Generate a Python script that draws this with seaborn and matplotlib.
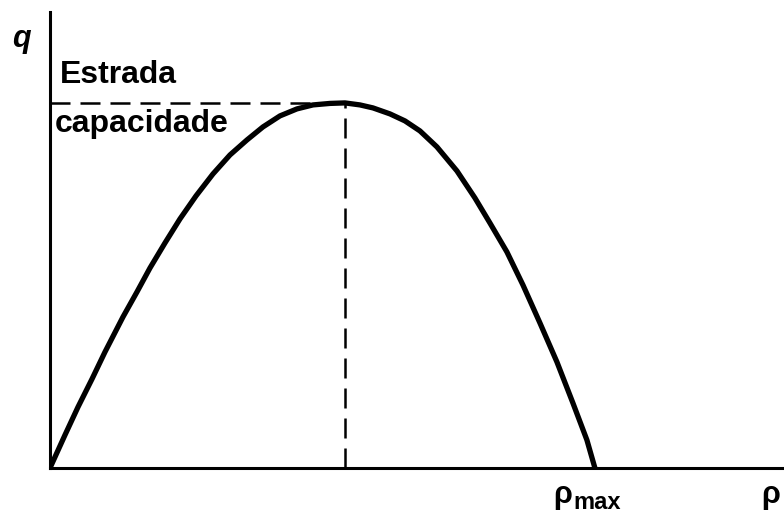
import matplotlib
matplotlib.use('Agg')
import matplotlib.pyplot as plt
import seaborn as sns
import pandas as pd

# fundamental diagram: flow q vs density rho (arbitrary units, rho_max = 100, capacity = 100)
rho = [0, 2.75, 5.14, 7.71, 10.09, 13.39, 15.96, 18.35, 21.10, 23.85, 26.79, 29.91,
       33.03, 36.15, 39.08, 42.20, 45.32, 48.26, 51.38, 54.13,
       56.88, 59.27, 62.39, 65.14, 67.89, 71.01, 74.68, 77.98, 80.73, 83.85, 86.79,
       89.91, 93.03, 95.96, 98.53, 100]
q = [0, 9.04, 16.71, 24.38, 31.78, 41.37, 48.22, 54.79, 61.64, 68.22, 74.52, 80.55,
     85.75, 89.86, 93.42, 96.44, 98.36, 99.45, 99.86, 100,
     99.45, 98.63, 96.99, 95.07, 92.33, 87.95, 81.37, 73.97, 67.12, 59.18, 50.14,
     39.73, 29.04, 17.81, 7.67, 0]
rho_crit = 54.13
q_cap = 100

df = pd.DataFrame({'rho': rho, 'q': q})

sns.set_style('white')
plt.rcParams['font.family'] = ['Liberation Sans', 'DejaVu Sans']
plt.rcParams['text.color'] = 'black'

fig = plt.figure(figsize=(7.84, 5.19), dpi=100)
ax = fig.add_axes([50 / 784, 51 / 519, 734 / 784, 456 / 519])

sns.lineplot(data=df, x='rho', y='q', ax=ax, color='black', linewidth=3.8,
             sort=False, solid_joinstyle='round', solid_capstyle='round')

# capacity guides
ax.plot([0, rho_crit], [q_cap, q_cap], color='black', linewidth=1.8, dashes=(8, 4))
ax.plot([rho_crit, rho_crit], [0, q_cap], color='black', linewidth=1.8, dashes=(8, 4))

ax.set_xlim(0, 134.7)
ax.set_ylim(0, 124.9)
ax.set_xticks([])
ax.set_yticks([])
ax.set_xlabel('')
ax.set_ylabel('')
sns.despine(ax=ax)
for side in ['left', 'bottom']:
    ax.spines[side].set_color('black')
    ax.spines[side].set_linewidth(2.2)

ax.text(-5.2, 117.5, 'q', fontsize=22, fontweight='bold', fontstyle='italic',
        color='black', ha='center', va='center', clip_on=False)
ax.text(1.8, 105.5, 'Estrada', fontsize=23, fontweight='bold', color='black', va='baseline')
ax.text(0.9, 92.1, 'capacidade', fontsize=23, fontweight='bold', color='black', va='baseline')
ax.text(92.4, -9.6, 'ρ', fontsize=22, fontweight='bold', color='black', va='baseline',
        clip_on=False)
ax.text(96.0, -11.3, 'max', fontsize=17, fontweight='bold', color='black', va='baseline',
        clip_on=False)
ax.text(130.6, -9.6, 'ρ', fontsize=22, fontweight='bold', color='black', va='baseline',
        clip_on=False)

fig.savefig('out.png', dpi=100)
